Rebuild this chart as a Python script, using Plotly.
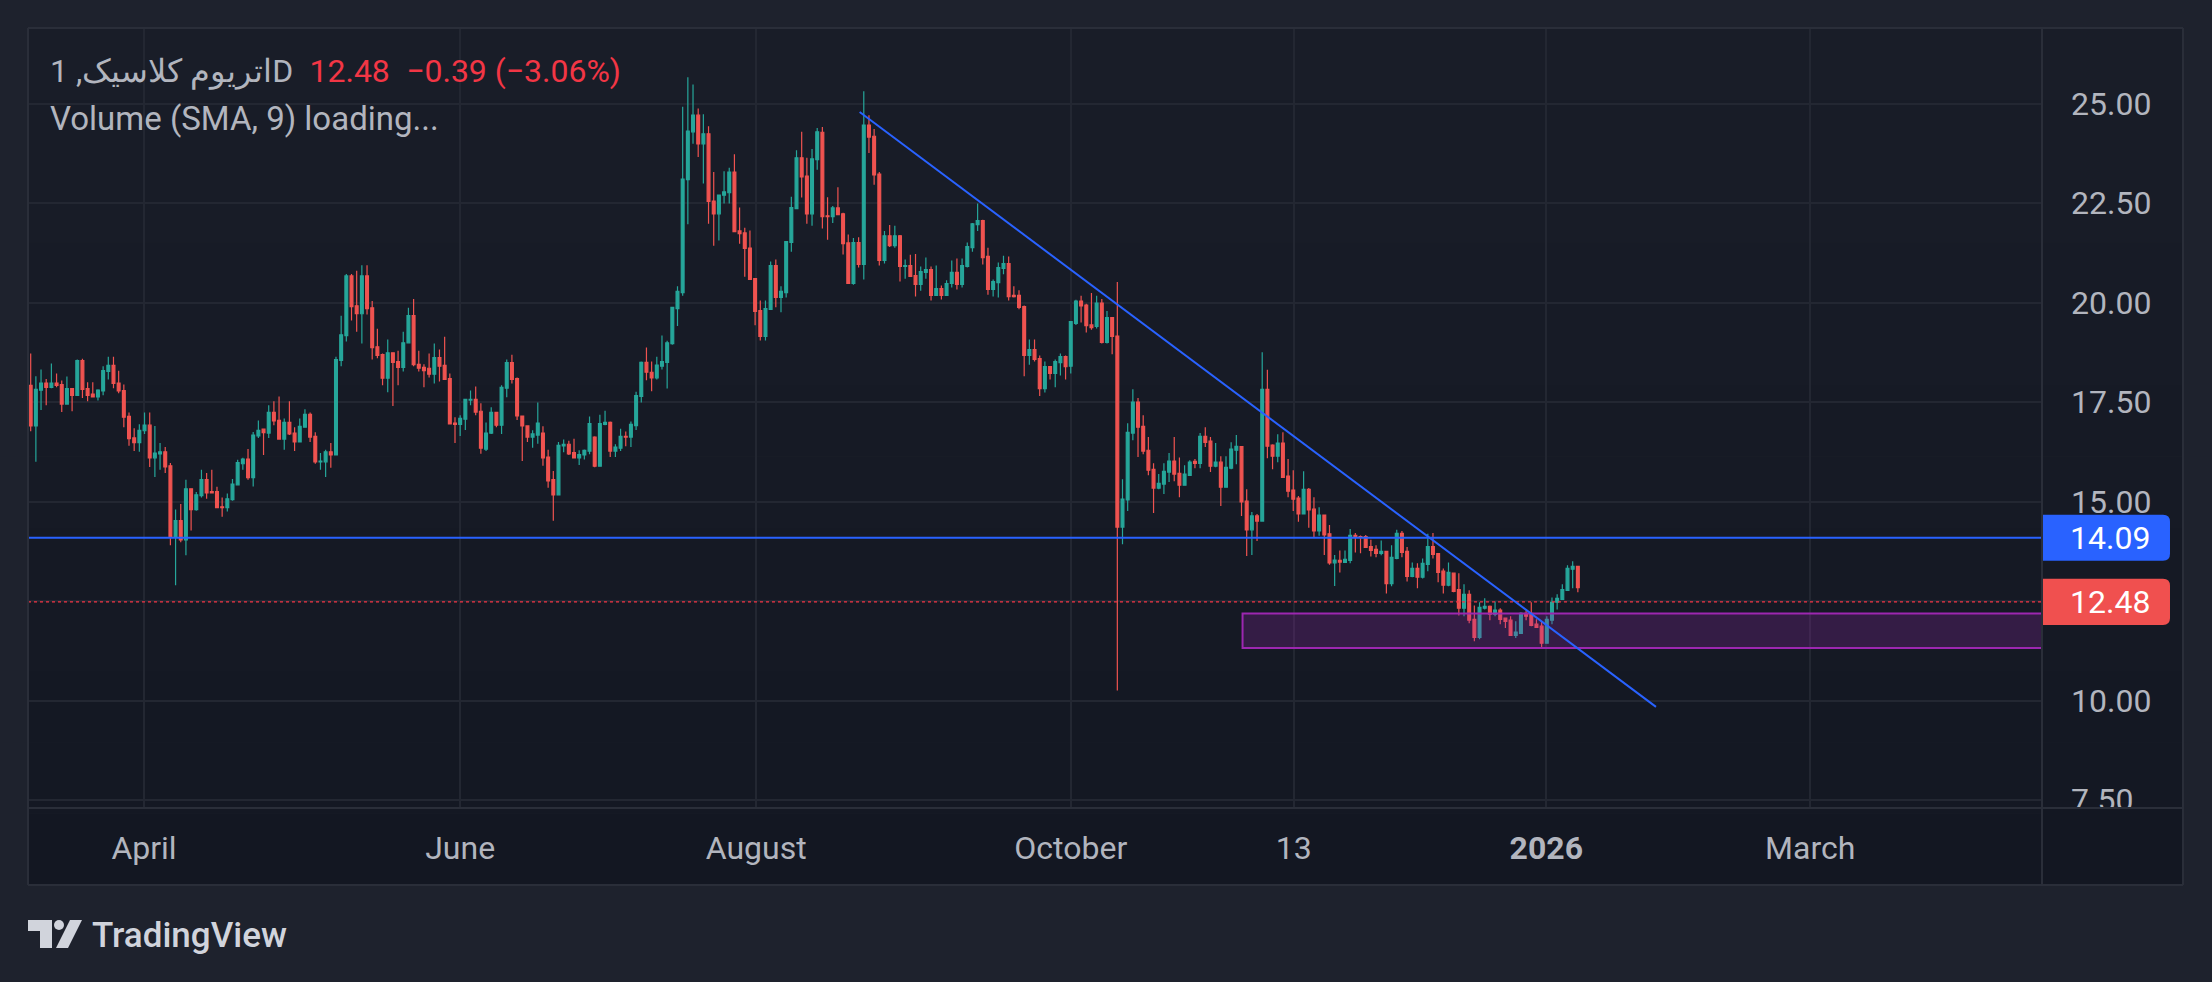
import plotly.graph_objects as go

# daily candles, x is the bar number (TradingView style)
open_ = [
    17.92, 16.90, 17.80, 17.98, 17.87, 17.98, 17.94, 17.45, 17.84, 17.67,
    18.54, 17.84, 17.70, 17.63, 17.78, 18.27, 18.42, 17.98, 17.79, 17.14,
    16.60, 16.48, 16.78, 16.92, 16.10, 16.20, 16.25, 15.90, 14.12, 14.52,
    14.04, 15.32, 14.80, 15.15, 15.55, 15.25, 15.25, 14.87, 14.85, 15.05,
    15.42, 15.95, 16.07, 15.60, 16.65, 16.82, 16.72, 17.24, 17.04, 16.57,
    16.99, 16.72, 16.50, 16.87, 17.19, 16.64, 16.00, 16.00, 16.25, 16.17,
    18.55, 19.17, 20.67, 19.92, 19.72, 20.67, 19.87, 18.89, 18.69, 18.10,
    18.74, 18.52, 18.37, 18.99, 19.67, 18.45, 18.37, 18.35, 18.20, 18.62,
    18.42, 18.09, 16.97, 16.94, 17.07, 17.55, 17.57, 17.27, 16.32, 16.72,
    17.24, 16.92, 17.85, 18.49, 18.09, 17.15, 16.90, 16.62, 16.67, 16.72,
    16.12, 15.55, 15.17, 16.40, 16.44, 16.23, 16.10, 16.17, 16.27, 16.62,
    15.89, 16.94, 16.99, 16.27, 16.34, 16.64, 16.62, 16.91, 17.64, 18.50,
    18.25, 18.11, 18.40, 18.50, 18.97, 19.85, 20.25, 23.09, 24.29, 24.71,
    23.99, 24.24, 22.55, 22.23, 22.70, 22.76, 23.28, 21.80, 21.75, 21.37,
    20.60, 19.80, 19.15, 19.83, 20.93, 20.13, 20.25, 21.51, 22.36, 23.64,
    23.18, 22.23, 23.59, 24.28, 22.18, 22.16, 22.38, 22.23, 21.50, 20.48,
    21.51, 20.96, 24.46, 24.18, 23.23, 21.06, 21.68, 21.43, 21.68, 20.91,
    20.93, 20.68, 20.46, 20.76, 20.83, 20.18, 20.35, 20.18, 20.48, 20.76,
    20.46, 20.91, 21.38, 21.96, 22.06, 21.16, 20.33, 20.50, 20.86, 20.98,
    20.18, 20.18, 19.90, 18.67, 18.82, 18.59, 17.84, 18.39, 18.22, 18.49,
    18.64, 18.40, 19.48, 20.04, 19.94, 19.44, 19.40, 19.99, 19.00, 19.62,
    19.16, 14.36, 15.04, 16.72, 17.50, 16.89, 16.29, 15.81, 15.34, 15.44,
    15.74, 16.02, 15.71, 15.41, 15.66, 16.01, 15.96, 16.64, 16.52, 15.89,
    15.99, 15.36, 15.84, 16.29, 16.38, 15.01, 14.29, 14.64, 14.51, 17.82,
    16.42, 16.14, 16.47, 15.64, 15.29, 15.09, 14.69, 15.31, 14.81, 14.26,
    14.66, 14.19, 13.46, 13.52, 13.47, 13.52, 14.15, 14.12, 14.12, 13.87,
    13.80, 13.70, 13.75, 12.94, 13.57, 14.20, 13.75, 13.12, 13.32, 13.10,
    13.42, 13.87, 13.69, 13.25, 12.90, 13.20, 12.79, 12.32, 12.67, 12.04,
    11.59, 12.32, 12.37, 12.17, 12.27, 12.07, 12.02, 11.64, 11.69, 12.19,
    12.19, 11.92, 11.87, 11.44, 12.02, 12.47, 12.54, 12.77, 13.30, 13.37,
]
high = [
    18.72, 18.15, 18.32, 18.08, 18.47, 18.22, 18.04, 18.14, 17.84, 18.57,
    18.59, 18.00, 18.00, 17.82, 18.40, 18.64, 18.64, 18.29, 17.94, 17.24,
    16.84, 16.94, 17.24, 17.24, 16.90, 16.47, 16.37, 15.97, 14.80, 14.94,
    15.55, 15.32, 15.24, 15.80, 15.72, 15.80, 15.37, 15.10, 15.20, 15.57,
    16.05, 16.10, 16.32, 16.75, 17.04, 16.82, 17.42, 17.52, 17.64, 17.09,
    17.52, 16.87, 17.09, 17.32, 17.24, 16.74, 16.22, 16.30, 16.47, 18.64,
    19.67, 20.72, 20.72, 20.80, 20.94, 20.94, 20.04, 19.34, 18.72, 19.07,
    18.74, 18.79, 19.27, 19.87, 20.09, 18.79, 18.45, 18.72, 18.97, 18.82,
    19.14, 18.22, 17.12, 17.17, 17.57, 17.79, 17.89, 17.47, 16.99, 17.37,
    17.24, 17.92, 18.57, 18.69, 18.12, 17.15, 16.90, 16.79, 17.49, 16.89,
    16.30, 15.77, 16.50, 16.56, 16.53, 16.58, 16.29, 16.31, 17.14, 16.64,
    17.18, 17.28, 17.01, 16.44, 16.83, 16.76, 17.01, 17.76, 18.52, 18.87,
    18.52, 18.64, 19.17, 19.04, 19.88, 20.41, 24.92, 25.66, 25.48, 24.88,
    24.73, 24.43, 23.28, 22.71, 23.30, 23.39, 23.73, 22.39, 21.88, 21.81,
    20.60, 20.05, 20.05, 21.03, 21.08, 20.41, 21.53, 22.66, 23.83, 24.29,
    23.64, 23.86, 24.39, 24.41, 22.65, 22.43, 22.90, 22.26, 21.71, 21.62,
    21.64, 25.31, 24.71, 24.36, 23.28, 21.80, 21.95, 21.93, 21.70, 21.08,
    21.20, 21.22, 20.91, 21.13, 20.91, 20.93, 20.43, 20.56, 21.06, 21.11,
    21.11, 21.51, 22.00, 22.49, 22.08, 21.38, 20.58, 21.01, 21.18, 21.16,
    20.41, 20.31, 19.93, 19.07, 19.07, 18.67, 18.52, 18.39, 18.57, 18.72,
    18.67, 19.54, 20.07, 20.17, 19.97, 20.24, 20.17, 20.09, 19.79, 19.64,
    20.52, 15.56, 16.97, 17.82, 17.60, 17.17, 16.62, 15.96, 15.69, 15.96,
    16.22, 16.62, 16.11, 15.91, 16.04, 16.07, 16.72, 16.87, 16.62, 16.47,
    16.14, 16.14, 16.49, 16.67, 16.39, 15.31, 14.74, 14.69, 18.75, 18.31,
    16.44, 16.69, 16.74, 16.07, 15.79, 15.14, 15.76, 15.34, 15.11, 14.86,
    14.66, 14.41, 13.66, 13.77, 13.77, 14.31, 14.21, 14.15, 14.16, 14.04,
    13.90, 14.02, 13.75, 13.90, 14.29, 14.26, 13.86, 13.47, 13.45, 13.57,
    14.19, 14.21, 13.69, 13.32, 13.47, 13.20, 13.20, 12.92, 12.77, 12.39,
    12.47, 12.57, 12.39, 12.49, 12.32, 12.09, 12.12, 11.99, 12.22, 12.27,
    12.47, 12.04, 11.99, 12.12, 12.59, 12.67, 12.92, 13.40, 13.50, 13.37,
]
low = [
    16.77, 16.00, 17.30, 17.42, 17.85, 17.87, 17.25, 17.45, 17.27, 17.67,
    17.60, 17.52, 17.63, 17.54, 17.67, 18.07, 17.85, 17.72, 16.87, 16.40,
    16.27, 16.25, 16.70, 15.87, 15.62, 15.80, 15.72, 13.90, 12.90, 13.98,
    13.65, 14.27, 14.77, 15.10, 15.07, 15.22, 14.85, 14.62, 14.75, 15.02,
    15.42, 15.80, 15.55, 15.38, 16.60, 16.17, 16.60, 16.92, 16.57, 16.30,
    16.67, 16.27, 16.50, 16.87, 16.50, 15.95, 15.80, 15.62, 15.85, 16.17,
    18.40, 19.02, 19.55, 19.27, 18.97, 19.70, 18.57, 18.60, 17.92, 17.75,
    17.40, 17.92, 18.27, 18.97, 18.40, 18.27, 17.87, 18.12, 17.97, 18.02,
    18.07, 16.95, 16.47, 16.65, 16.80, 17.42, 17.17, 16.20, 16.27, 16.70,
    16.87, 16.70, 17.62, 17.97, 17.05, 16.02, 16.50, 16.35, 16.45, 15.90,
    15.35, 14.52, 15.17, 16.24, 16.17, 16.08, 15.92, 16.06, 16.19, 15.86,
    15.89, 16.92, 16.12, 16.12, 16.27, 16.39, 16.37, 16.80, 17.49, 18.05,
    17.77, 18.07, 18.32, 17.84, 18.94, 19.41, 20.17, 21.97, 23.99, 23.66,
    22.99, 21.98, 21.43, 21.56, 22.49, 22.49, 21.78, 21.48, 20.65, 20.58,
    19.43, 19.05, 19.05, 19.83, 19.88, 19.76, 20.13, 21.28, 22.36, 22.64,
    21.98, 21.93, 23.34, 21.86, 21.58, 22.00, 22.21, 21.21, 20.48, 20.45,
    20.88, 20.58, 23.76, 22.96, 20.93, 20.98, 21.40, 21.38, 20.53, 20.60,
    20.66, 20.15, 20.30, 20.60, 20.05, 20.18, 20.08, 20.18, 20.38, 20.33,
    20.38, 20.88, 21.28, 21.80, 20.96, 20.20, 20.15, 20.13, 20.71, 20.05,
    20.13, 19.83, 18.15, 18.44, 18.52, 17.65, 17.74, 18.07, 17.87, 18.17,
    18.07, 18.22, 19.44, 19.50, 19.25, 19.32, 19.35, 18.97, 18.97, 18.70,
    10.25, 13.93, 14.76, 16.54, 16.12, 16.19, 15.66, 14.71, 15.31, 15.19,
    15.49, 15.51, 15.11, 15.41, 15.64, 15.84, 15.84, 16.37, 15.74, 15.86,
    14.89, 15.36, 15.81, 15.94, 14.64, 13.63, 13.66, 14.01, 14.51, 16.09,
    15.81, 15.99, 15.61, 15.11, 14.76, 14.49, 14.69, 14.34, 14.09, 14.14,
    13.66, 13.41, 12.88, 13.22, 13.47, 13.45, 13.72, 13.70, 13.85, 13.62,
    13.60, 13.65, 12.69, 12.87, 13.55, 13.60, 12.99, 13.10, 12.82, 13.07,
    13.25, 13.57, 12.97, 12.69, 12.87, 12.72, 12.14, 12.12, 11.94, 11.49,
    11.54, 12.29, 12.02, 12.12, 11.92, 11.82, 11.64, 11.57, 11.69, 12.02,
    11.87, 11.82, 11.31, 11.44, 11.92, 12.29, 12.54, 12.77, 12.82, 12.72,
]
close = [
    16.90, 17.82, 17.98, 17.87, 17.98, 17.92, 17.45, 17.84, 17.67, 18.54,
    17.82, 17.67, 17.63, 17.80, 18.29, 18.42, 17.97, 17.78, 17.12, 16.58,
    16.48, 16.79, 16.92, 16.10, 16.22, 16.25, 15.87, 14.12, 14.52, 14.04,
    15.32, 14.80, 15.17, 15.55, 15.22, 15.22, 14.85, 14.85, 15.07, 15.44,
    15.98, 16.07, 15.60, 16.67, 16.79, 16.73, 17.24, 17.03, 16.57, 16.99,
    16.70, 16.50, 16.89, 17.19, 16.62, 16.00, 16.02, 16.25, 16.17, 18.57,
    19.19, 20.67, 19.90, 19.72, 20.67, 19.85, 18.87, 18.67, 18.10, 18.74,
    18.50, 18.37, 18.99, 19.67, 18.44, 18.35, 18.29, 18.20, 18.62, 18.40,
    18.07, 16.95, 16.94, 17.09, 17.57, 17.57, 17.25, 16.34, 16.72, 17.24,
    16.92, 17.87, 18.49, 18.07, 17.15, 16.90, 16.62, 16.70, 16.97, 16.10,
    15.52, 15.17, 16.41, 16.44, 16.20, 16.10, 16.18, 16.29, 16.96, 15.89,
    16.96, 16.99, 16.27, 16.37, 16.64, 16.62, 16.94, 17.66, 18.50, 18.25,
    18.11, 18.43, 18.52, 18.99, 19.88, 20.28, 23.10, 24.31, 24.71, 23.99,
    24.24, 22.54, 22.23, 22.70, 22.78, 23.28, 21.78, 21.73, 21.36, 20.58,
    19.78, 19.15, 19.85, 20.93, 20.13, 20.28, 21.53, 22.39, 23.64, 23.16,
    22.23, 23.61, 24.29, 22.16, 22.16, 22.38, 22.21, 21.48, 20.48, 21.51,
    20.96, 24.46, 24.16, 23.21, 21.06, 21.68, 21.43, 21.68, 20.91, 20.93,
    20.66, 20.46, 20.78, 20.83, 20.18, 20.35, 20.18, 20.48, 20.76, 20.46,
    20.93, 21.41, 21.98, 22.06, 21.13, 20.33, 20.53, 20.88, 20.98, 20.15,
    20.15, 19.88, 18.67, 18.82, 18.57, 17.84, 18.39, 18.22, 18.52, 18.64,
    18.39, 19.52, 20.04, 19.92, 19.42, 19.37, 19.99, 19.00, 19.62, 19.15,
    14.36, 15.06, 16.74, 17.50, 16.87, 16.27, 15.79, 15.34, 15.46, 15.76,
    16.02, 15.69, 15.41, 15.69, 15.99, 15.96, 16.64, 16.49, 15.89, 15.99,
    15.36, 15.86, 16.32, 16.39, 14.99, 14.29, 14.64, 14.51, 17.82, 16.39,
    16.14, 16.47, 15.61, 15.26, 15.06, 14.69, 15.31, 14.79, 14.26, 14.66,
    14.16, 13.46, 13.53, 13.48, 13.55, 14.15, 14.10, 14.10, 13.85, 13.77,
    13.70, 13.75, 12.94, 13.60, 14.20, 13.72, 13.12, 13.32, 13.10, 13.45,
    13.87, 13.67, 13.22, 12.90, 13.22, 12.74, 12.32, 12.67, 12.02, 11.59,
    12.34, 12.37, 12.17, 12.27, 12.04, 11.99, 11.64, 11.72, 12.19, 12.12,
    11.89, 11.84, 11.44, 12.04, 12.47, 12.57, 12.79, 13.32, 13.37, 12.84,
]
bar_index = list(range(len(close)))

# time axis labels (bar positions where TradingView put them)
tick_bars = [21.9, 83.0, 140.2, 201.0, 244.1, 292.9, 343.9]
tick_text = ["April", "June", "August", "October", "13", "<b>2026</b>", "March"]
price_ticks = [7.5, 10, 12.5, 15, 17.5, 20, 22.5, 25]

# drawings on the chart
hline_price = 14.09
last_price = 12.48
zone_start, zone_low, zone_high = 234.2, 11.32, 12.19
trend_start = (160.2, 24.79)
trend_end = (314.1, 9.84)

UP, DOWN = "#26A69A", "#EF5350"
BLUE, RED = "#2962FF", "#F23645"
TXT = "#B2B5BE"
BORDER = "#2A2E39"

# page geometry in pixels
W, H = 2212, 982
ML, MR, MT, MB = 28, 170, 28, 174


def px(x):
    return (x - ML) / (W - ML - MR)


def py(y):
    return (H - MB - y) / (H - MT - MB)


fig = go.Figure()
fig.add_trace(go.Candlestick(
    x=bar_index, open=open_, high=high, low=low, close=close,
    increasing=dict(line=dict(color=UP, width=1.2), fillcolor=UP),
    decreasing=dict(line=dict(color=DOWN, width=1.2), fillcolor=DOWN),
    whiskerwidth=0, hoverinfo="skip", showlegend=False,
))

shapes = []
# chart background, slight gradient top -> bottom
n_bands = 12
top_c, bot_c = (25, 29, 40), (19, 23, 34)
frame_r, frame_b = px(2183), py(885)
for i in range(n_bands):
    f = i / (n_bands - 1)
    c = tuple(round(a + (b - a) * f) for a, b in zip(top_c, bot_c))
    y1 = 1 - (1 - frame_b) * i / n_bands
    y0 = 1 - (1 - frame_b) * (i + 1) / n_bands
    shapes.append(dict(type="rect", xref="paper", yref="paper", layer="below",
                       x0=0, x1=frame_r, y0=y0, y1=y1, line_width=0,
                       fillcolor="rgb(%d,%d,%d)" % c))

# drawings
shapes.append(dict(type="rect", xref="x", yref="y", layer="above",
                   x0=zone_start, x1=420, y0=zone_low, y1=zone_high,
                   fillcolor="rgba(156,39,176,0.24)",
                   line=dict(color="#9C27B0", width=2)))
shapes.append(dict(type="line", xref="paper", yref="y", layer="above",
                   x0=0, x1=1, y0=last_price, y1=last_price,
                   line=dict(color=RED, width=1.3, dash="dot")))
shapes.append(dict(type="line", xref="paper", yref="y", layer="above",
                   x0=0, x1=1, y0=hline_price, y1=hline_price,
                   line=dict(color=BLUE, width=2)))
shapes.append(dict(type="line", xref="x", yref="y", layer="above",
                   x0=trend_start[0], y0=trend_start[1],
                   x1=trend_end[0], y1=trend_end[1],
                   line=dict(color=BLUE, width=2)))

# covers the lower half of the 7.50 label, like the reference
shapes.append(dict(type="rect", xref="paper", yref="paper", layer="above",
                   x0=1, x1=frame_r, y0=frame_b, y1=0, line_width=0,
                   fillcolor="rgb(19,23,34)"))

# price badges on the axis, rounded on the right
bx0, bx1, rx, ry, half = 1, px(2170), 7 / 2014, 7 / 39.8, 0.58
for level, col in [(hline_price, BLUE), (last_price, "#F0504F")]:
    y0, y1 = level - half, level + half
    badge = ("M %f,%f L %f,%f Q %f,%f %f,%f L %f,%f Q %f,%f %f,%f L %f,%f Z"
             % (bx0, y0, bx1 - rx, y0, bx1, y0, bx1, y0 + ry,
                bx1, y1 - ry, bx1, y1, bx1 - rx, y1, bx0, y1))
    shapes.append(dict(type="path", xref="paper", yref="y", layer="above",
                       path=badge, fillcolor=col, line_width=0))

# frame and separators
for x0, y0, x1, y1 in [
    (0, 1, frame_r, 1), (0, frame_b, frame_r, frame_b),
    (0, frame_b, 0, 1), (frame_r, frame_b, frame_r, 1),
    (1, frame_b, 1, 1), (0, 0, frame_r, 0),
]:
    shapes.append(dict(type="line", xref="paper", yref="paper", layer="above",
                       x0=x0, y0=y0, x1=x1, y1=y1,
                       line=dict(color=BORDER, width=2)))


# TradingView logo
def path(points):
    return "M " + " L ".join("%f,%f" % (px(a), py(b)) for a, b in points) + " Z"


logo_col = "#D1D4DC"
shapes.append(dict(type="path", xref="paper", yref="paper", layer="above",
                   path=path([(28, 920), (52, 920), (52, 948), (40, 948), (40, 931), (28, 931)]),
                   fillcolor=logo_col, line_width=0))
shapes.append(dict(type="circle", xref="paper", yref="paper", layer="above",
                   x0=px(54), x1=px(64), y0=py(920), y1=py(930),
                   fillcolor=logo_col, line_width=0))
shapes.append(dict(type="path", xref="paper", yref="paper", layer="above",
                   path=path([(56, 948), (68, 948), (82, 920), (70, 920)]),
                   fillcolor=logo_col, line_width=0))

annotations = [
    dict(xref="paper", yref="paper", x=px(48), y=py(71), xanchor="left", yanchor="middle",
         showarrow=False, font=dict(size=32, color=TXT),
         text="اتریوم کلاسیک, 1D\u2002<span style='color:%s'>12.48\u2002\u22120.39 (\u22123.06%%)</span>" % RED),
    dict(xref="paper", yref="paper", x=px(48), y=py(118), xanchor="left", yanchor="middle",
         showarrow=False, font=dict(size=33, color=TXT),
         text="Volume (SMA, 9) loading..."),
    dict(xref="paper", yref="paper", x=px(90), y=py(935), xanchor="left", yanchor="middle",
         showarrow=False, font=dict(size=35, color=logo_col, weight=500),
         text="TradingView"),
]
for level in [hline_price, last_price]:
    annotations.append(dict(xref="paper", yref="y", x=px(2068), y=level,
                            xanchor="left", yanchor="middle", showarrow=False,
                            font=dict(size=32, color="white"), text="%.2f" % level))

fig.update_layout(
    width=W, height=H,
    margin=dict(l=ML, r=MR, t=MT, b=MB, pad=0),
    paper_bgcolor="#1E222D", plot_bgcolor="rgba(0,0,0,0)",
    font=dict(family="Roboto", color=TXT),
    shapes=shapes, annotations=annotations,
    boxgap=0.22, showlegend=False,
    xaxis=dict(range=[-0.52, 388.7], tickvals=tick_bars, ticktext=tick_text,
               showgrid=True, gridcolor="#232732", gridwidth=2, zeroline=False,
               showline=False, ticks="", ticklabelstandoff=18,
               tickfont=dict(size=32, color=TXT), rangeslider=dict(visible=False)),
    yaxis=dict(range=[7.30, 26.90], side="right", tickvals=price_ticks,
               tickformat=".2f", showgrid=True, gridcolor="#232732", gridwidth=2,
               zeroline=False, showline=False, ticks="", ticklabelstandoff=28,
               tickfont=dict(size=32, color=TXT)),
)

fig.write_html("out.html", config={"displayModeBar": False},
               post_script="document.body.style.margin='0';")
